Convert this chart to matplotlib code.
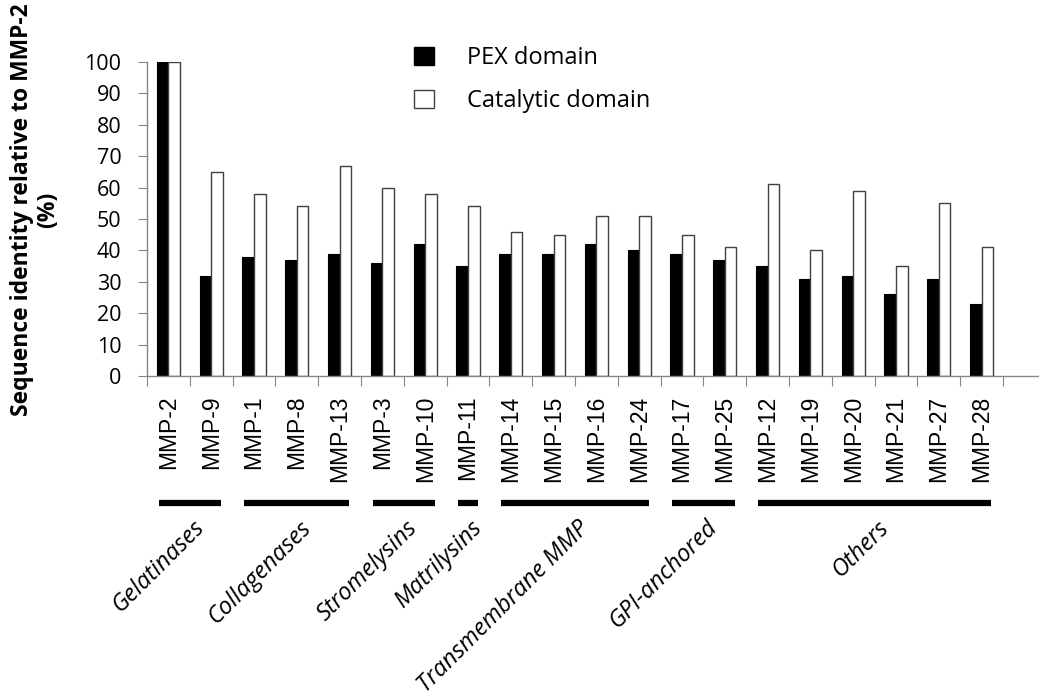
import matplotlib
matplotlib.use('Agg')
import matplotlib.pyplot as plt
from matplotlib.patches import Patch
from matplotlib.transforms import blended_transform_factory

# data
mmps = ['MMP-2', 'MMP-9', 'MMP-1', 'MMP-8', 'MMP-13', 'MMP-3', 'MMP-10', 'MMP-11',
        'MMP-14', 'MMP-15', 'MMP-16', 'MMP-24', 'MMP-17', 'MMP-25', 'MMP-12',
        'MMP-19', 'MMP-20', 'MMP-21', 'MMP-27', 'MMP-28']
pex = [100, 32, 38, 37, 39, 36, 42, 35, 39, 39, 42, 40, 39, 37, 35, 31, 32, 26, 31, 23]
catalytic = [100, 65, 58, 54, 67, 60, 58, 54, 46, 45, 51, 51, 45, 41, 61, 40, 59, 35, 55, 41]

groups = ['Gelatinases', 'Collagenases', 'Stromelysins', 'Matrilysins',
          'Transmembrane MMP', 'GPI-anchored', 'Others']
group_first = [0, 2, 5, 7, 8, 12, 14]
group_last = [1, 4, 6, 7, 11, 13, 19]

plt.rcParams['font.family'] = ['Open Sans', 'DejaVu Sans']
axis_grey = '#868686'

fig = plt.figure(figsize=(10.39, 7.0), dpi=100)
ax = fig.add_axes([147 / 1039, 1 - 376 / 700, 892 / 1039, 314 / 700])

n = len(mmps)
x = list(range(n))
w = 0.27
ax.bar([i - w / 2 for i in x], pex, width=w, color='black', edgecolor='black',
       linewidth=0.8, label='PEX domain')
ax.bar([i + w / 2 for i in x], catalytic, width=w, color='white', edgecolor='#404040',
       linewidth=1.0, label='Catalytic domain')

ax.set_xlim(-0.5, 20.34)
ax.set_ylim(0, 100)
ax.set_yticks(range(0, 101, 10))
ax.tick_params(axis='y', length=6.5, color=axis_grey, labelsize=15.5, pad=12)

# category boundaries as major ticks, names on minor ticks
ax.set_xticks([i - 0.5 for i in range(n + 1)])
ax.set_xticklabels([])
ax.set_xticks(x, minor=True)
ax.set_xticklabels(mmps, minor=True, rotation=90, va='top', ha='center',
                   family=['Liberation Sans'], fontsize=16.5)
ax.tick_params(axis='x', which='major', length=7, color=axis_grey)
ax.tick_params(axis='x', which='minor', length=0, pad=14)

for side in ['top', 'right']:
    ax.spines[side].set_visible(False)
for side in ['left', 'bottom']:
    ax.spines[side].set_color(axis_grey)
    ax.spines[side].set_linewidth(1.0)

ax.set_ylabel('Sequence identity relative to MMP-2\n(%)', fontsize=16.5,
              fontweight='bold', linespacing=1.15)
ax.yaxis.set_label_coords(-0.097, 0.53)

# group brackets and names below the tick labels
trans = blended_transform_factory(ax.transData, ax.transAxes)
for name, a, b in zip(groups, group_first, group_last):
    ax.plot([a - 0.23, b + 0.23], [-0.405, -0.405], color='black', linewidth=4.5,
            solid_capstyle='butt', transform=trans, clip_on=False)
    ax.text((a + b) / 2 + 0.05, -0.445, name, transform=trans, rotation=45,
            rotation_mode='anchor', ha='right', va='top', fontsize=17,
            style='italic')

handles = [Patch(facecolor='black', edgecolor='black'),
           Patch(facecolor='white', edgecolor='#404040')]
fig.legend(handles, ['PEX domain', 'Catalytic domain'], loc='upper left',
           bbox_to_anchor=(414 / 1039, 1 - 46 / 700), frameon=False, fontsize=17,
           handlelength=0.85, handleheight=0.8, handletextpad=1.4,
           labelspacing=0.8, borderpad=0, borderaxespad=0)

fig.savefig('out.png', dpi=100, facecolor='white')
